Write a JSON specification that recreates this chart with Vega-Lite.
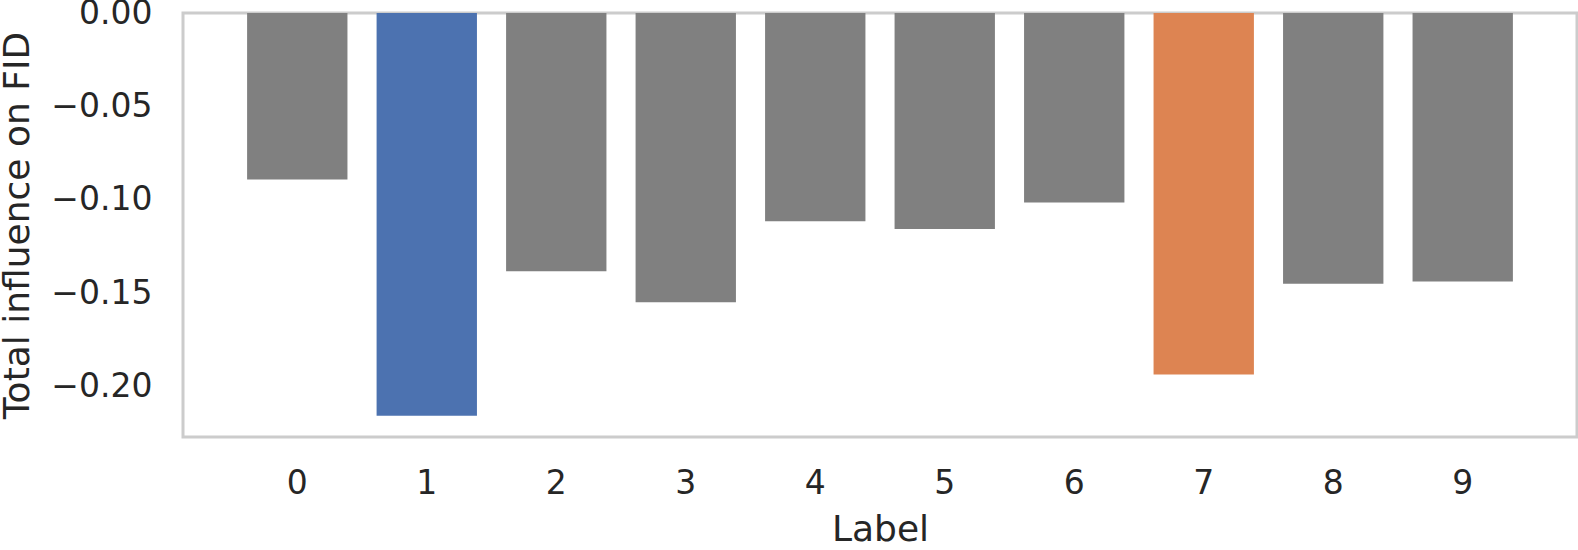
{
  "$schema": "https://vega.github.io/schema/vega-lite/v6.json",
  "autosize": {"type": "none"},
  "width": 1394,
  "height": 424,
  "padding": {"left": 183, "top": 13, "right": 1, "bottom": 113},
  "background": "white",
  "config": {
    "view": {"stroke": "#cccccc", "strokeWidth": 3},
    "font": "DejaVu Sans",
    "axis": {
      "labelFont": "DejaVu Sans",
      "titleFont": "DejaVu Sans",
      "labelColor": "#262626",
      "titleColor": "#262626",
      "titleFontWeight": "normal",
      "ticks": false,
      "domain": false,
      "grid": false,
      "labelFontSize": 33,
      "titleFontSize": 36
    }
  },
  "data": {
    "values": [
      {"label": "0", "influence": -0.0891, "group": "other"},
      {"label": "1", "influence": -0.2156, "group": "one"},
      {"label": "2", "influence": -0.1383, "group": "other"},
      {"label": "3", "influence": -0.1549, "group": "other"},
      {"label": "4", "influence": -0.1115, "group": "other"},
      {"label": "5", "influence": -0.1156, "group": "other"},
      {"label": "6", "influence": -0.1014, "group": "other"},
      {"label": "7", "influence": -0.1935, "group": "seven"},
      {"label": "8", "influence": -0.1449, "group": "other"},
      {"label": "9", "influence": -0.1438, "group": "other"}
    ]
  },
  "mark": {"type": "bar"},
  "encoding": {
    "x": {
      "field": "label",
      "type": "ordinal",
      "title": "Label",
      "scale": {"paddingInner": 0.225, "paddingOuter": 0.495},
      "axis": {"labelAngle": 0, "labelPadding": 30, "titlePadding": 12}
    },
    "y": {
      "field": "influence",
      "type": "quantitative",
      "title": "Total influence on FID",
      "scale": {"domain": [-0.227, 0], "nice": false, "zero": false},
      "axis": {"values": [0, -0.05, -0.1, -0.15, -0.2], "format": ".2f", "labelPadding": 31, "titlePadding": 14}
    },
    "color": {
      "field": "group",
      "type": "nominal",
      "scale": {"domain": ["other", "one", "seven"], "range": ["#808080", "#4c72b0", "#dd8452"]},
      "legend": null
    }
  }
}
